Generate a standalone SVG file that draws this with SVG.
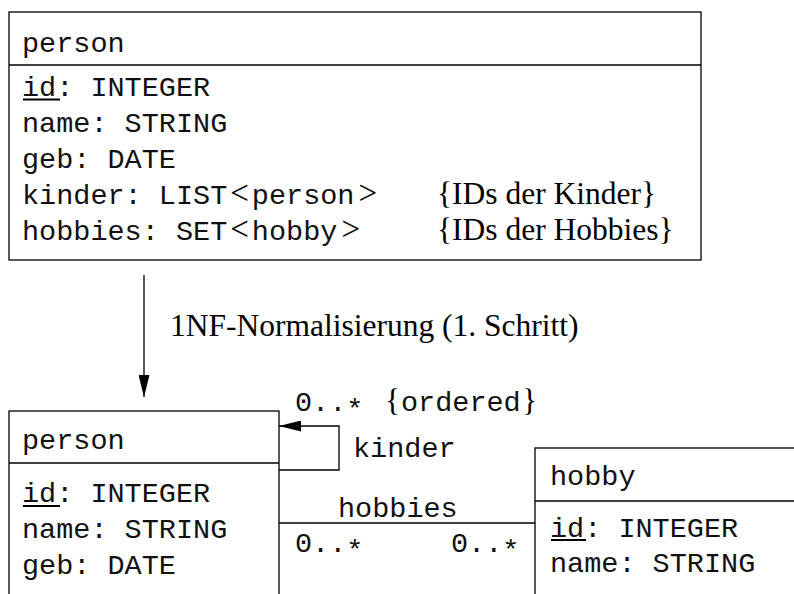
<svg xmlns="http://www.w3.org/2000/svg" width="794" height="594" viewBox="0 0 794 594">
<style>
.m{font-family:"Liberation Mono","Courier New",monospace;font-size:28.5px;fill:#111}
.s{font-family:"Liberation Serif","Times New Roman",serif;font-size:31.5px;fill:#000}
.lt{font-family:"Liberation Serif","Times New Roman",serif;font-size:33px;fill:#000}
.box{fill:#fff;stroke:#000;stroke-width:1.3}
.ln{stroke:#000;stroke-width:1.3;fill:none}
.ul{stroke:#000;stroke-width:2}
</style>
<defs>
<marker id="ah" viewBox="0 0 22 11" refX="22" refY="5.5" markerWidth="22" markerHeight="11" orient="auto" markerUnits="userSpaceOnUse"><path d="M0,0 L22,5.5 L0,11 z" fill="#000"/></marker>
</defs>
<g id="person-nf2">
<rect class="box" x="9" y="12" width="692" height="248"/>
<line class="ln" x1="9" y1="65" x2="701" y2="65"/>
<text class="m" x="22" y="52">person</text>
<text class="m" x="22" y="96">id: INTEGER</text>
<line class="ul" x1="23" y1="99.5" x2="60" y2="99.5"/>
<text class="m" x="22" y="132">name: STRING</text>
<text class="m" x="22" y="168">geb: DATE</text>
<text class="m" x="22" y="204">kinder: LIST<tspan class="lt" dx="3">&lt;</tspan><tspan dx="3">person</tspan><tspan class="lt" dx="4">&gt;</tspan></text>
<text class="m" x="22" y="240">hobbies: SET<tspan class="lt" dx="3">&lt;</tspan><tspan dx="3">hobby</tspan><tspan class="lt" dx="4">&gt;</tspan></text>
<text class="s" x="437" y="204">{IDs der Kinder}</text>
<text class="s" x="437" y="240">{IDs der Hobbies}</text>
</g>
<g id="person">
<rect class="box" x="9" y="411" width="270" height="220"/>
<line class="ln" x1="9" y1="463" x2="279" y2="463"/>
<text class="m" x="22" y="449">person</text>
<text class="m" x="22" y="502">id: INTEGER</text>
<line class="ul" x1="23" y1="506" x2="60" y2="506"/>
<text class="m" x="22" y="538">name: STRING</text>
<text class="m" x="22" y="574">geb: DATE</text>
</g>
<g id="hobby">
<rect class="box" x="535" y="448" width="300" height="200"/>
<line class="ln" x1="535" y1="501" x2="794" y2="501"/>
<text class="m" x="550" y="485">hobby</text>
<text class="m" x="550" y="537">id: INTEGER</text>
<line class="ul" x1="551" y1="540" x2="586" y2="540"/>
<text class="m" x="550" y="572">name: STRING</text>
</g>
<g id="connectors">
<line class="ln" x1="144" y1="275" x2="144" y2="397" marker-end="url(#ah)"/>
<text class="s" x="170" y="336">1NF-Normalisierung (1. Schritt)</text>
<path class="ln" d="M279,470 H339 V426 H279" marker-end="url(#ah)"/>
<text class="m" x="295" y="411">0..<tspan dy="7">*</tspan></text>
<text class="s" x="385" y="411">{</text>
<text class="m" x="401" y="411">ordered</text>
<text class="s" x="522" y="411">}</text>
<text class="m" x="353" y="457">kinder</text>
<line class="ln" x1="279" y1="523" x2="535" y2="523"/>
<text class="m" x="338" y="517">hobbies</text>
<text class="m" x="295" y="552">0..<tspan dy="7">*</tspan></text>
<text class="m" x="451" y="552">0..<tspan dy="7">*</tspan></text>
</g>
</svg>
